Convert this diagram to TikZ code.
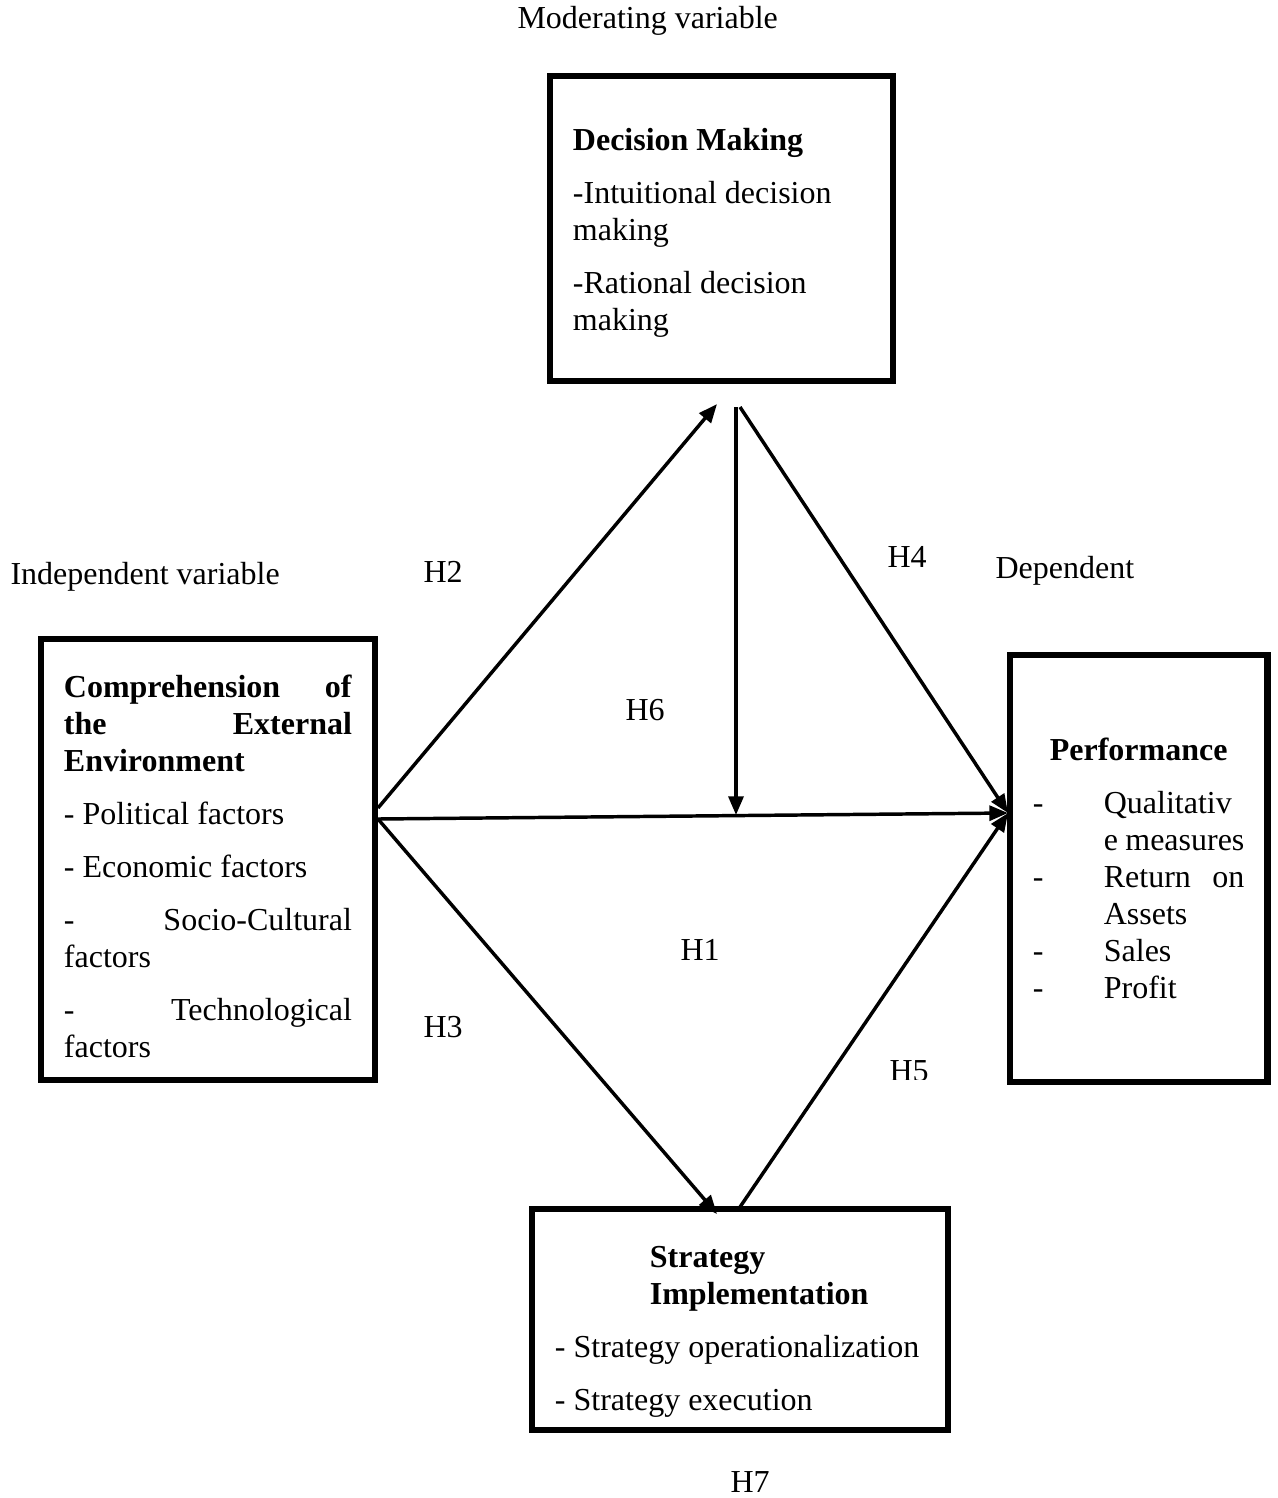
\documentclass[12pt,tikz,border=0pt]{standalone}
\usepackage{fontspec}
\setmainfont{Liberation Serif}
\usepackage{tikz}
\usetikzlibrary{arrows.meta,positioning}

\newcommand{\spread}{\hskip 0pt plus 1filll\relax}
\newcommand{\dashcol}[1]{\makebox[26.6pt][l]{#1}}

\begin{document}
\begin{tikzpicture}[
  x=0.375pt,y=-0.375pt,
  every node/.style={font=\fontsize{12pt}{13.9pt}\selectfont},
  box/.style={draw,line width=2.5pt,inner xsep=8.6pt,inner ysep=0pt,outer sep=0pt,
    align=flush left,anchor=base west},
  tag/.style={inner sep=0pt,anchor=base west},
  link/.style={line width=1.3pt,-{Triangle[length=7pt,width=5.6pt]}}
]

\useasboundingbox (0,0) rectangle (1277,1498);

% boxes
\node[box,text width=111.4pt,text height=27.75pt,text depth=86.6pt] (dm) at (550,150)
  {\textbf{Decision Making}\\[6pt]
   -Intuitional decision\\ making\\[6pt]
   -Rational decision\\ making};

\node[box,text width=108pt,text height=21.75pt,text depth=143.6pt] (env) at (41,697)
  {\textbf{Comprehension\spread of}\\
   \textbf{the\spread External}\\
   \textbf{Environment}\\[6pt]
   - Political factors\\[6pt]
   - Economic factors\\[6pt]
   -\spread Socio-Cultural\\ factors\\[6pt]
   -\spread Technological\\ factors};

\node[box,text width=79.3pt,text height=39.4pt,text depth=120.75pt] (perf) at (1010,760)
  {\makebox[\linewidth]{\textbf{Performance}}\\[6pt]
   \dashcol{-}Qualitativ\\
   \dashcol{}e measures\\
   \dashcol{-}Return\spread on\\
   \dashcol{}Assets\\
   \dashcol{-}Sales\\
   \dashcol{-}Profit};

\node[box,text width=138.8pt,text height=21.75pt,text depth=61.1pt] (si) at (532,1267)
  {\hspace*{35.6pt}\textbf{Strategy}\\
   \hspace*{35.6pt}\textbf{Implementation}\\[6pt]
   - Strategy operationalization\\[6pt]
   - Strategy execution};

% connector ends
\coordinate (env top) at (378,808);
\coordinate (env mid) at (378,819);
\coordinate (dm in) at (717,404);
\coordinate (dm foot) at (736,407);
\coordinate (dm out) at (740,407);
\coordinate (mod pt) at (736,815);
\coordinate (perf in) at (1008,813);
\coordinate (si in) at (717,1214);
\coordinate (si out) at (740,1207);

\draw[link] (env top) -- (dm in);
\draw[link] (dm foot) -- (mod pt);
\draw[link] (dm out) -- (perf in);
\draw[link] (env mid) -- (perf in);
\draw[link] (env mid) -- (si in);
\draw[link] (si out) -- (perf in);

% labels
\node[tag] (mod) at (517,29) {Moderating variable};
\node[tag] (ind) at (10,584) {Independent variable};
\node[tag] (dep) at (995,578) {Dependent};
\node[tag] (h2) at (423,582) {H2};
\node[tag] (h4) at (887,567) {H4};
\node[tag] (h6) at (625,720) {H6};
\node[tag] (h1) at (680,960) {H1};
\node[tag] (h3) at (423,1037) {H3};
\begin{scope}
  \clip (870,1040) rectangle (940,1079);
  \node[tag] (h5) at (889,1081) {H5};
\end{scope}
\node[tag] (h7) at (730,1492) {H7};

\end{tikzpicture}
\end{document}
